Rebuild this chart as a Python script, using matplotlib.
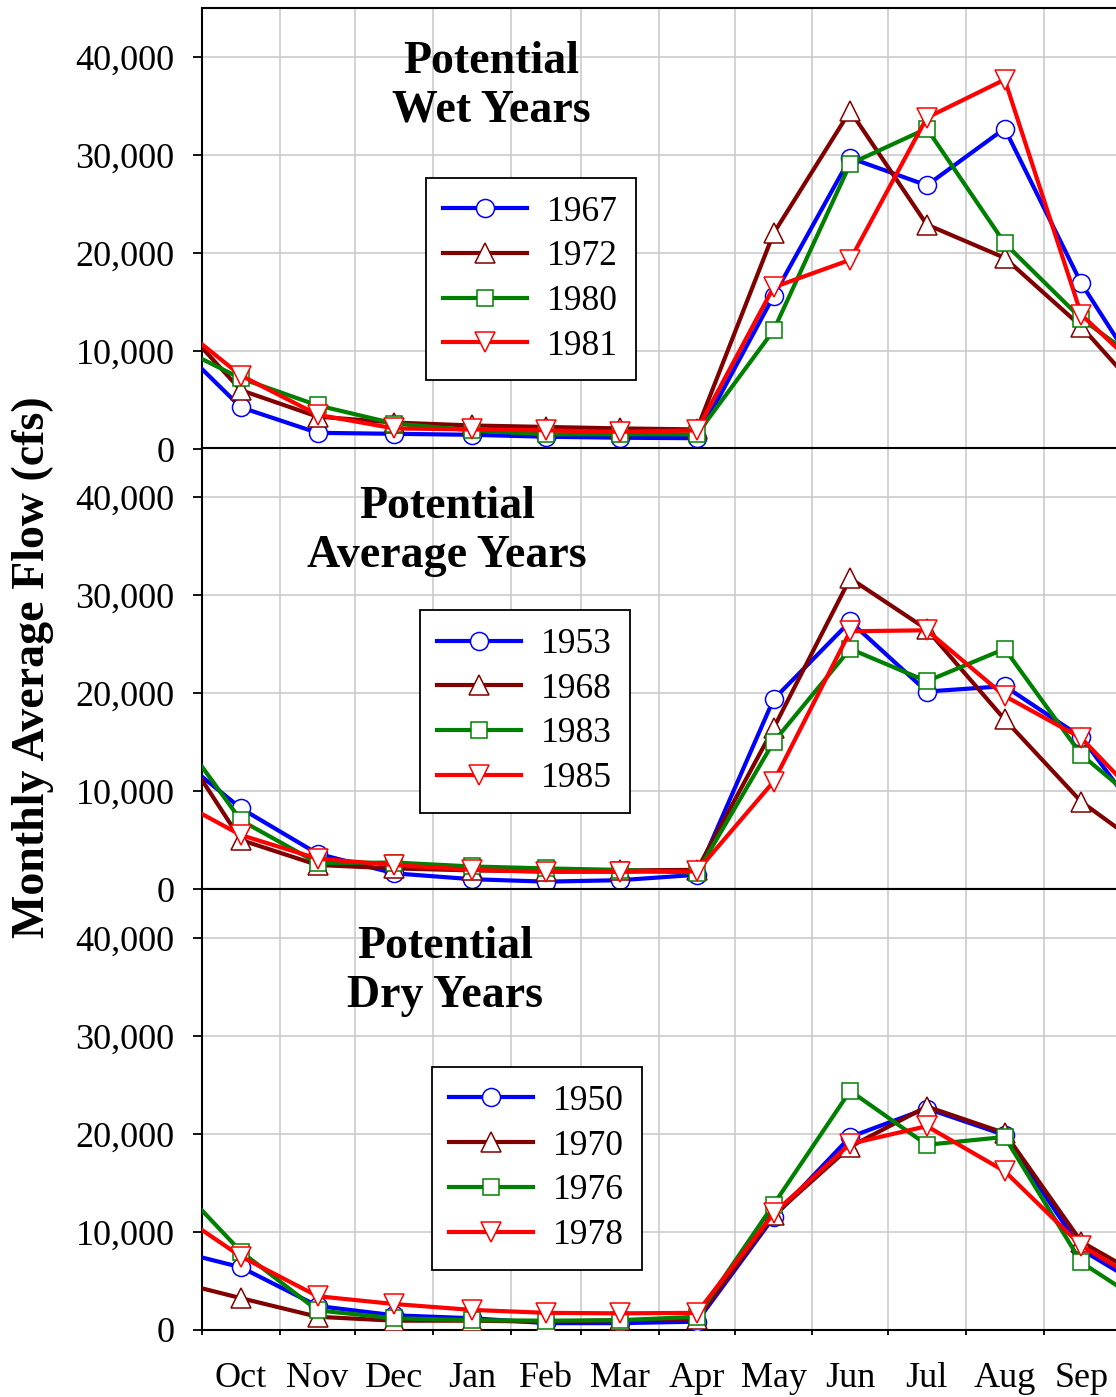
import numpy as np
import matplotlib.pyplot as plt
from matplotlib.lines import Line2D
from matplotlib.ticker import FixedLocator, FuncFormatter

plt.rcParams['font.family'] = ['Liberation Serif', 'DejaVu Serif']

months = ['Oct', 'Nov', 'Dec', 'Jan', 'Feb', 'Mar', 'Apr', 'May', 'Jun', 'Jul', 'Aug', 'Sep']
month_days = [31, 30, 31, 31, 28, 31, 30, 31, 30, 31, 31, 30]

# values: Oct 1, mid-month Oct..Sep, Oct 1 of next year
wet_years = ['1967', '1972', '1980', '1981']
wet_1967 = [8160, 4250, 1650, 1550, 1450, 1250, 1150, 1100, 15600, 29700, 26900, 32700, 16900, 10900]
wet_1972 = [10340, 6000, 3300, 2700, 2400, 2250, 2100, 2000, 22000, 34500, 22900, 19500, 12500, 8200]
wet_1980 = [9180, 7200, 4450, 2600, 1900, 1500, 1500, 1500, 12100, 29100, 32700, 21000, 13300, 10500]
wet_1981 = [10680, 7500, 3500, 2100, 2000, 1900, 1750, 1900, 16500, 19300, 33800, 37700, 13700, 10100]

avg_years = ['1953', '1968', '1983', '1985']
avg_1953 = [11460, 8230, 3600, 1600, 1000, 750, 900, 1450, 19350, 27300, 20150, 20700, 15500, 10300]
avg_1968 = [11120, 5000, 2450, 2100, 1900, 1800, 1900, 1950, 16400, 31700, 26500, 17300, 8900, 6100]
avg_1983 = [12480, 7000, 2650, 2700, 2300, 2100, 1950, 1650, 15000, 24500, 21200, 24500, 13700, 10500]
avg_1985 = [7650, 5500, 3100, 2450, 1950, 1750, 1750, 1800, 10950, 26300, 26400, 19700, 15400, 11400]

dry_years = ['1950', '1970', '1976', '1978']
dry_1950 = [7400, 6400, 2450, 1500, 1200, 700, 700, 850, 11500, 19700, 22600, 19900, 8200, 5900]
dry_1970 = [4250, 3250, 1350, 950, 950, 850, 1000, 1100, 11700, 18700, 22800, 20100, 9000, 6800]
dry_1976 = [12200, 8000, 2000, 1200, 1000, 950, 1000, 1350, 12800, 24400, 18900, 19700, 6900, 4400]
dry_1978 = [10200, 7500, 3450, 2650, 2050, 1750, 1700, 1750, 11900, 19000, 20800, 16200, 8600, 6300]

colors = ['#0000ff', '#800000', '#008000', '#ff0000']
markers = ['o', '^', 's', 'v']
msizes = [13, 14, 11.5, 14]

starts = np.concatenate([[0], np.cumsum(month_days)])
mids = starts[:-1] + np.array(month_days) / 2
xdata = np.concatenate([[0], mids, [365]])

panels = [
    ('Potential\nWet Years', wet_years, [wet_1967, wet_1972, wet_1980, wet_1981],
     (0.315, 0.823), (0.244, 0.6145)),
    ('Potential\nAverage Years', avg_years, [avg_1953, avg_1968, avg_1983, avg_1985],
     (0.267, 0.81), (0.2375, 0.632)),
    ('Potential\nDry Years', dry_years, [dry_1950, dry_1970, dry_1976, dry_1978],
     (0.265, 0.812), (0.2505, 0.596)),
]

fig = plt.figure(figsize=(11.16, 13.97), dpi=100)
left = 202 / 1116
width = (1119 - 202) / 1116
bottoms = [(1397 - 449) / 1397, (1397 - 889) / 1397, (1397 - 1330) / 1397]
height = 441 / 1397

for i, (title, years, series, tpos, lpos) in enumerate(panels):
    ax = fig.add_axes([left, bottoms[i], width, height])
    handles = []
    for j, vals in enumerate(series):
        ax.plot(xdata, vals, color=colors[j], lw=3, marker=markers[j], ms=msizes[j],
                mfc='white', mec=colors[j], mew=1.1, markevery=slice(1, 13),
                zorder=3 + j)
        handles.append(Line2D([], [], color=colors[j], lw=3, marker=markers[j], ms=msizes[j],
                              mfc='white', mec=colors[j], mew=1.1))
    ax.set_xlim(0, 365)
    ax.set_ylim(0, 45000)
    ax.yaxis.set_major_locator(FixedLocator([0, 10000, 20000, 30000, 40000]))
    ax.yaxis.set_major_formatter(FuncFormatter(lambda v, p: f'{int(v):,}'))
    ax.xaxis.set_major_locator(FixedLocator(starts))
    ax.xaxis.set_minor_locator(FixedLocator(mids))
    ax.grid(True, which='major', color='#c8c8c8', lw=1.1, zorder=0)
    ax.set_axisbelow(True)
    ax.tick_params(axis='y', direction='out', length=6.7, width=1.3, labelsize=26, pad=13)
    if i == 2:
        ax.tick_params(axis='x', which='major', direction='out', length=3.6, width=1.3,
                       labelbottom=False)
        ax.tick_params(axis='x', which='minor', length=0, labelsize=26, pad=23)
        ax.set_xticklabels(months, minor=True)
    else:
        ax.tick_params(axis='x', which='both', length=0, labelbottom=False)
    for s in ['left', 'bottom', 'top']:
        ax.spines[s].set_linewidth(1.5)
    ax.spines['right'].set_visible(False)
    ax.text(tpos[0], tpos[1], title, transform=ax.transAxes, ha='center', va='center',
            multialignment='center', fontsize=33, fontweight='bold', linespacing=1.22,
            zorder=10)
    leg = ax.legend(handles, years, loc='upper left', bbox_to_anchor=lpos, borderaxespad=0,
                    fontsize=25.5, handlelength=2.35, handletextpad=0.58, labelspacing=0.33,
                    borderpad=0.5, fancybox=False, framealpha=1, edgecolor='black')
    leg.get_frame().set_linewidth(1.3)
    leg.set_zorder(20)

fig.text(33 / 1116, 1 - 667 / 1397, 'Monthly Average Flow (cfs)', rotation=90,
         ha='center', va='center', fontsize=33, fontweight='bold')

fig.savefig('out.png', dpi=100)
